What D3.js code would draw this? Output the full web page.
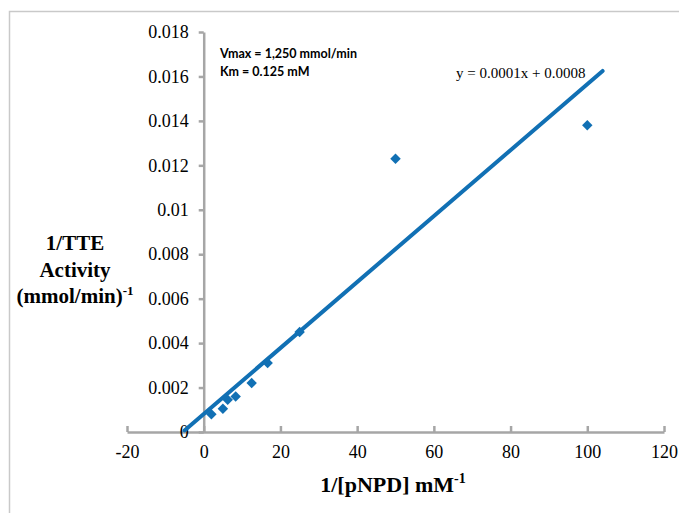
<!DOCTYPE html>
<html>
<head>
<meta charset="utf-8">
<script src="https://cdn.jsdelivr.net/npm/d3@7"></script>
<style>
  html, body { margin: 0; padding: 0; background: #ffffff; }
  svg { display: block; }
</style>
</head>
<body>
<svg id="chart" width="679" height="513"></svg>
<script>
// Lineweaver–Burk plot: 1/activity against 1/[pNPD]
const inverseSubstrate = [2, 5, 6.25, 8.33, 12.5, 16.67, 25, 50, 100];
const inverseActivity = [0.0008, 0.00105, 0.00145, 0.0016, 0.0022, 0.0031, 0.0045, 0.0123, 0.0138];
const xTicks = [-20, 0, 20, 40, 60, 80, 100, 120];
const yTicks = [0, 0.002, 0.004, 0.006, 0.008, 0.01, 0.012, 0.014, 0.016, 0.018];
const yTickLabels = ["0", "0.002", "0.004", "0.006", "0.008", "0.01", "0.012", "0.014", "0.016", "0.018"];
const trendRange = [-5, 104];
const kineticsNotes = ["Vmax = 1,250 mmol/min", "Km = 0.125 mM"];

const svg = d3.select("#chart");
const blue = "#1170b4";
const axisGrey = "#a6a6a6";
const serif = "'Liberation Serif', 'Times New Roman', serif";

const x = d3.scaleLinear().domain([-20, 120]).range([127, 664]);
const y = d3.scaleLinear().domain([0, 0.018]).range([432, 32]);

// outer frame
svg.append("path")
  .attr("d", "M9.5,513 V11.5 H679")
  .attr("fill", "none")
  .attr("stroke", "#c9c9c9")
  .attr("stroke-width", 1.5);

// axes crossing at the origin
const xAxis = svg.append("g")
  .attr("transform", `translate(0,${y(0)})`)
  .call(d3.axisBottom(x).tickValues(xTicks).tickSizeInner(-6).tickSizeOuter(0)
    .tickFormat(d3.format("d")));
xAxis.select(".domain").attr("stroke", axisGrey).attr("stroke-width", 2.5);
xAxis.selectAll(".tick line").attr("stroke", axisGrey).attr("stroke-width", 2.5);
xAxis.selectAll(".tick text")
  .attr("y", 13).attr("dy", "0.71em")
  .attr("font-family", serif).attr("font-size", 18).attr("fill", "#000")
  .text(d => d < 0 ? "-" + Math.abs(d) : d);

const yAxis = svg.append("g")
  .attr("transform", `translate(${x(0)},0)`)
  .call(d3.axisLeft(y).tickValues(yTicks).tickSize(5).tickSizeOuter(0).tickPadding(10)
    .tickFormat((d, i) => yTickLabels[i]));
yAxis.select(".domain").attr("stroke", axisGrey).attr("stroke-width", 2.5);
yAxis.selectAll(".tick line").attr("stroke", axisGrey).attr("stroke-width", 2.5);
yAxis.selectAll(".tick text")
  .attr("font-family", serif).attr("font-size", 18).attr("fill", "#000");

// least-squares trend line
const n = inverseSubstrate.length;
const mx = d3.mean(inverseSubstrate);
const my = d3.mean(inverseActivity);
let sxy = 0, sxx = 0;
for (let i = 0; i < n; i++) {
  sxy += (inverseSubstrate[i] - mx) * (inverseActivity[i] - my);
  sxx += (inverseSubstrate[i] - mx) ** 2;
}
const slope = sxy / sxx;
const intercept = my - slope * mx;

svg.append("line")
  .attr("x1", x(trendRange[0])).attr("y1", y(intercept + slope * trendRange[0]))
  .attr("x2", x(trendRange[1])).attr("y2", y(intercept + slope * trendRange[1]))
  .attr("stroke", blue).attr("stroke-width", 4).attr("stroke-linecap", "round");

// data markers
svg.append("g").selectAll("path")
  .data(inverseSubstrate.map((v, i) => [v, inverseActivity[i]]))
  .join("path")
  .attr("d", d3.symbol(d3.symbolDiamond2, 70)())
  .attr("transform", d => `translate(${x(d[0])},${y(d[1])})`)
  .attr("fill", blue);

// fitted equation
svg.append("text")
  .attr("x", 456).attr("y", 78)
  .attr("font-family", serif).attr("font-size", 15).attr("fill", "#000")
  .text(`y = ${slope.toFixed(4)}x + ${intercept.toFixed(4)}`);

// kinetic constants
svg.append("g").selectAll("text")
  .data(kineticsNotes)
  .join("text")
  .attr("x", 220).attr("y", (d, i) => 58 + i * 18)
  .attr("font-family", "Lato, 'Open Sans', sans-serif").attr("font-weight", 700)
  .attr("font-size", 12.5).attr("fill", "#000")
  .text(d => d);

// axis titles
const yTitle = svg.append("text")
  .attr("text-anchor", "middle")
  .attr("font-family", serif).attr("font-weight", 700).attr("font-size", 21).attr("fill", "#000");
yTitle.append("tspan").attr("x", 75).attr("y", 250).text("1/TTE");
yTitle.append("tspan").attr("x", 75).attr("y", 277).text("Activity");
const yTitleLast = yTitle.append("tspan").attr("x", 75).attr("y", 303);
yTitleLast.append("tspan").text("(mmol/min)");
yTitleLast.append("tspan").attr("font-size", 13).attr("dy", -8).text("-1");

const xTitle = svg.append("text")
  .attr("x", 393).attr("y", 492)
  .attr("text-anchor", "middle")
  .attr("font-family", serif).attr("font-weight", 700).attr("font-size", 22).attr("fill", "#000");
xTitle.append("tspan").text("1/[pNPD] mM");
xTitle.append("tspan").attr("font-size", 14).attr("dy", -9).text("-1");
</script>
</body>
</html>
